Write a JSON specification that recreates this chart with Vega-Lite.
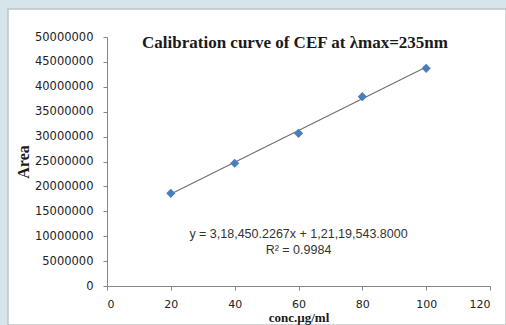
{
  "$schema": "https://vega.github.io/schema/vega-lite/v6.json",
  "width": 498,
  "height": 316,
  "autosize": {"type": "none"},
  "padding": {"left": 8, "top": 9, "right": 0, "bottom": 0},
  "background": "#d6e4ec",
  "config": {
    "view": {"fill": "#ffffff", "stroke": "#c4c4c4", "strokeWidth": 1.5},
    "axis": {"labelOverlap": false}
  },
  "title": {
    "text": "Calibration curve of CEF at λmax=235nm",
    "font": "Liberation Serif",
    "fontSize": 17,
    "fontWeight": "bold",
    "color": "#1a1a1a",
    "anchor": "middle",
    "frame": "group",
    "offset": 0,
    "baseline": "alphabetic",
    "dx": 38,
    "dy": 56
  },
  "datasets": {
    "points": [
      {"conc": 20, "area": 18610000},
      {"conc": 40, "area": 24650000},
      {"conc": 60, "area": 30660000},
      {"conc": 80, "area": 38020000},
      {"conc": 100, "area": 43720000}
    ],
    "trend": [
      {"conc": 20, "area": 18488548},
      {"conc": 100, "area": 43964566}
    ]
  },
  "encoding": {
    "x": {
      "field": "conc", "type": "quantitative",
      "scale": {"domain": [0, 120], "range": [99, 482], "nice": false, "zero": false},
      "axis": {
        "title": "conc.µg/ml",
        "values": [0, 20, 40, 60, 80, 100, 120],
        "offset": -39,
        "grid": false,
        "labelOverlap": false,
        "domainColor": "#868686",
        "tickColor": "#868686",
        "tickSize": 4,
        "labelFont": "DejaVu Sans",
        "labelFontSize": 11,
        "labelColor": "#222222",
        "labelPadding": 8,
        "titleFont": "Liberation Serif",
        "titleFontSize": 13,
        "titleFontWeight": "bold",
        "titleColor": "#1a1a1a",
        "titlePadding": 2
      }
    },
    "y": {
      "field": "area", "type": "quantitative",
      "scale": {"domain": [0, 50000000], "range": [277, 28], "nice": false, "zero": false},
      "axis": {
        "title": "Area",
        "values": [0, 5000000, 10000000, 15000000, 20000000, 25000000, 30000000, 35000000, 40000000, 45000000, 50000000],
        "tickCount": 11,
        "format": "d",
        "offset": -99,
        "grid": false,
        "labelOverlap": false,
        "domainColor": "#868686",
        "tickColor": "#868686",
        "tickSize": 4,
        "labelFont": "DejaVu Sans",
        "labelFontSize": 11.5,
        "labelColor": "#222222",
        "labelPadding": 10,
        "titleFont": "Liberation Serif",
        "titleFontSize": 16,
        "titleFontWeight": "bold",
        "titleColor": "#1a1a1a",
        "titlePadding": 3
      }
    }
  },
  "layer": [
    {
      "data": {"name": "trend"},
      "mark": {"type": "line", "color": "#707070", "strokeWidth": 1.2}
    },
    {
      "data": {"name": "points"},
      "mark": {"type": "point", "shape": "diamond", "filled": true, "color": "#4a7ebb", "size": 85, "opacity": 1}
    },
    {
      "data": {"values": [{"conc": 60, "area": 10500000}]},
      "mark": {"type": "text", "font": "Liberation Sans", "fontSize": 12.5, "color": "#333333", "align": "center", "baseline": "middle", "lineHeight": 16},
      "encoding": {
        "text": {"value": ["y = 3,18,450.2267x + 1,21,19,543.8000", "R² = 0.9984"]}
      }
    }
  ]
}
